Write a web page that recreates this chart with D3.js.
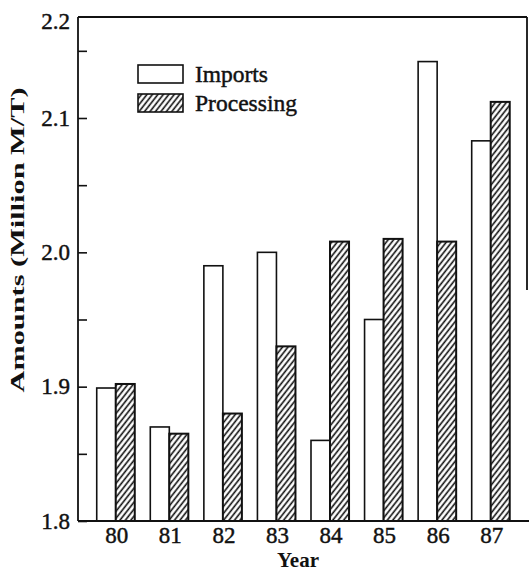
<!DOCTYPE html>
<html>
<head>
<meta charset="utf-8">
<script src="https://cdn.jsdelivr.net/npm/d3@7/dist/d3.min.js"></script>
<style>
  html, body { margin: 0; padding: 0; background: #fff; }
  svg text { font-family: "Liberation Serif", "DejaVu Serif", serif; fill: #111; }
  svg text.ink { stroke: #111; stroke-width: 0.45px; }
</style>
</head>
<body>
<svg id="chart" width="529" height="573"></svg>
<script>
// ---- data ----
const years = ["80", "81", "82", "83", "84", "85", "86", "87"];
const imports = [1.899, 1.870, 1.990, 2.000, 1.860, 1.950, 2.142, 2.083];
const processing = [1.902, 1.865, 1.880, 1.930, 2.008, 2.010, 2.008, 2.112];
const seriesNames = ["Imports", "Processing"];
const yTicks = [1.8, 1.9, 2.0, 2.1];
const yMinorTicks = [1.85, 1.95, 2.05, 2.15];
const yTopLabel = "2.2";
const xTitle = "Year";
const yTitle = "Amounts (Million M/T)";

// ---- layout ----
const svg = d3.select("#chart");
const plotLeft = 78, plotBottom = 521, plotTop = 17, plotRight = 527;

const x = d3.scaleBand().domain(years).range([88.96, 517.5]).paddingInner(0.29).paddingOuter(0.145);
const xs = d3.scaleBand().domain(seriesNames).range([0, x.bandwidth()]);
const y = d3.scaleLinear().domain([1.8, 2.1]).range([plotBottom, 118]);

// hatch pattern
const defs = svg.append("defs");
const pat = defs.append("pattern")
  .attr("id", "hatch")
  .attr("patternUnits", "userSpaceOnUse")
  .attr("width", 10).attr("height", 4.3)
  .attr("patternTransform", "rotate(-52)");
pat.append("rect").attr("width", 10).attr("height", 4.3).attr("fill", "#fff");
pat.append("line").attr("x1", 0).attr("x2", 10).attr("y1", 2).attr("y2", 2)
  .attr("stroke", "#111").attr("stroke-width", 1.6);

// bars
const rows = years.map((yr, i) => ({ yr, vals: [imports[i], processing[i]] }));
const g = svg.append("g");
rows.forEach(r => {
  r.vals.forEach((v, j) => {
    g.append("rect")
      .attr("x", x(r.yr) + xs(seriesNames[j]))
      .attr("y", y(v))
      .attr("width", xs.bandwidth())
      .attr("height", y(1.8) - y(v))
      .attr("fill", j === 0 ? "#fff" : "url(#hatch)")
      .attr("stroke", "#111")
      .attr("stroke-width", j === 0 ? 1.6 : 2);
  });
});

// frame
const frame = svg.append("g").attr("stroke", "#111").attr("stroke-width", 1.8).attr("fill", "none");
frame.append("line").attr("x1", plotLeft).attr("x2", plotLeft).attr("y1", plotTop).attr("y2", plotBottom);
frame.append("line").attr("x1", plotLeft).attr("x2", 529).attr("y1", plotBottom).attr("y2", plotBottom);
frame.append("line").attr("x1", plotLeft).attr("x2", plotRight).attr("y1", plotTop).attr("y2", plotTop);
frame.append("line").attr("x1", plotRight).attr("x2", plotRight).attr("y1", plotTop).attr("y2", 290);

// y axis ticks (inward)
const yAxis = d3.axisRight(y).tickValues(yTicks).tickSize(9).tickFormat("");
const ya = svg.append("g").attr("transform", `translate(${plotLeft},0)`).call(yAxis);
ya.select(".domain").remove();
ya.selectAll("line").attr("stroke", "#111").attr("stroke-width", 1.6);
const yAxisMinor = d3.axisRight(y).tickValues(yMinorTicks).tickSize(9).tickFormat("");
const ym = svg.append("g").attr("transform", `translate(${plotLeft},0)`).call(yAxisMinor);
ym.select(".domain").remove();
ym.selectAll("line").attr("stroke", "#111").attr("stroke-width", 1.6);

// y tick labels
svg.append("g").selectAll("text").data(yTicks).join("text")
  .attr("class", "ink")
  .attr("x", 70).attr("y", d => y(d)).attr("dy", "0.34em")
  .attr("text-anchor", "end").attr("font-size", 23)
  .text(d => d3.format(".1f")(d));
svg.append("text").attr("class", "ink").attr("x", 70).attr("y", plotTop + 4).attr("dy", "0.34em")
  .attr("text-anchor", "end").attr("font-size", 23).text(yTopLabel);

// x tick labels
svg.append("g").selectAll("text").data(years).join("text")
  .attr("class", "ink")
  .attr("x", d => x(d) + x.bandwidth() / 2 + 1).attr("y", 543)
  .attr("text-anchor", "middle").attr("font-size", 23)
  .text(d => d);

// titles
svg.append("text").attr("x", 298).attr("y", 567).attr("text-anchor", "middle")
  .attr("font-size", 21).attr("font-weight", "bold").text(xTitle);
svg.append("text").attr("transform", "translate(24,240) rotate(-90)")
  .attr("text-anchor", "middle").attr("font-size", 18).attr("font-weight", "bold")
  .attr("textLength", 305).attr("lengthAdjust", "spacingAndGlyphs")
  .text(yTitle);

// legend
const legY = [65, 94];
const lg = svg.append("g");
seriesNames.forEach((s, j) => {
  lg.append("rect").attr("x", 138).attr("y", legY[j]).attr("width", 45).attr("height", 18)
    .attr("fill", j === 0 ? "#fff" : "url(#hatch)").attr("stroke", "#111").attr("stroke-width", 1.6);
  lg.append("text").attr("class", "ink").attr("x", 195).attr("y", legY[j] + 17)
    .attr("font-size", 23).attr("textLength", j === 0 ? 73 : 102).attr("lengthAdjust", "spacingAndGlyphs")
    .text(s);
});
</script>
</body>
</html>
